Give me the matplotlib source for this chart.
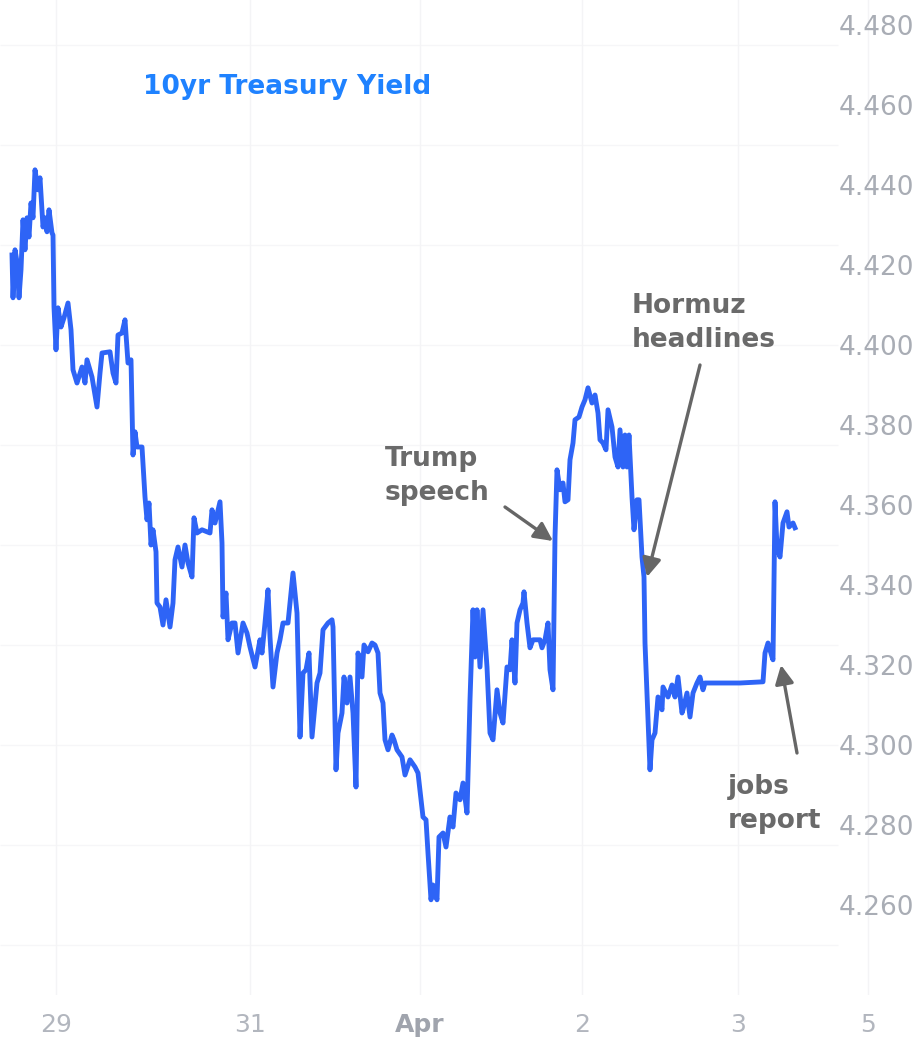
import matplotlib
matplotlib.use("Agg")
import matplotlib.pyplot as plt

# session position (compressed trading time) and 10yr yield, %
t = [1.2, 1.3, 1.5, 1.7, 1.9, 2.1, 2.3, 2.5, 2.7, 2.9, 3.1, 3.3, 3.5, 3.8, 4.0, 4.3, 4.5, 4.7, 4.9, 5.2,
     5.3, 5.4, 5.6, 5.8, 6.1, 6.4, 6.8, 7.1, 7.3, 7.7, 8.2, 8.5, 8.7, 9.2, 9.7, 10.0, 10.2, 11.0, 11.3, 11.6,
     11.8, 12.2, 12.5, 12.8, 13.1, 13.3, 13.5, 13.7, 14.2, 14.5, 14.7, 14.9, 15.1, 15.3, 15.6, 15.7, 16.0, 16.3, 16.6, 17.0,
     17.3, 17.5, 17.8, 18.2, 18.5, 18.8, 19.2, 19.4, 19.7, 20.2, 21.0, 21.2, 21.5, 22.0, 22.2, 22.3, 22.6, 22.8, 23.2, 23.5,
     23.8, 24.3, 24.7, 25.0, 25.5, 26.0, 26.2, 26.5, 26.8, 27.0, 27.3, 27.7, 28.0, 28.3, 28.8, 29.3, 29.7, 30.0, 30.3, 30.6,
     30.9, 31.2, 31.7, 32.0, 32.3, 32.8, 33.2, 33.3, 33.6, 33.8, 34.2, 34.4, 34.7, 35.0, 35.3, 35.6, 35.8, 36.2, 36.4, 36.8,
     37.2, 37.5, 37.8, 38.0, 38.3, 38.5, 38.8, 39.2, 39.4, 39.7, 40.2, 40.5, 41.0, 41.5, 41.8, 42.3, 42.6, 42.8, 43.1, 43.3,
     43.7, 43.9, 44.3, 44.6, 45.0, 45.3, 45.6, 46.0, 46.3, 46.7, 47.0, 47.3, 47.5, 47.7, 48.0, 48.3, 48.7, 49.0, 49.3, 49.7,
     50.0, 50.3, 50.7, 51.0, 51.2, 51.5, 51.7, 52.0, 52.3, 52.4, 52.7, 53.0, 53.3, 54.0, 54.2, 54.5, 54.8, 55.0, 55.3, 55.5,
     55.7, 56.0, 56.3, 56.5, 56.8, 57.0, 57.3, 57.5, 57.9, 58.2, 58.5, 58.8, 59.2, 59.5, 59.8, 60.0, 60.3, 60.6, 60.8, 61.2,
     61.5, 61.8, 62.0, 62.3, 62.5, 62.7, 62.9, 63.2, 63.4, 63.7, 63.9, 64.2, 64.4, 64.5, 64.8, 65.0, 65.2, 65.5, 65.8, 66.2,
     66.3, 66.8, 67.2, 67.5, 67.8, 68.2, 68.3, 68.7, 69.0, 69.3, 69.7, 70.0, 70.3, 70.5, 72.3, 74.0, 76.3, 76.5, 76.8, 77.2,
     77.3, 77.5, 77.7, 78.0, 78.3, 78.7, 78.9, 79.3, 79.5]
yld = [4.4225, 4.4118, 4.4238, 4.4208, 4.4118, 4.4188, 4.4313, 4.4238, 4.4318, 4.4270, 4.4355, 4.4318, 4.4438, 4.4388, 4.4418, 4.4295, 4.4318, 4.4283, 4.4338, 4.4280,
       4.4275, 4.4095, 4.3988, 4.4093, 4.4045, 4.4068, 4.4105, 4.4038, 4.3938, 4.3905, 4.3945, 4.3905, 4.3963, 4.3920, 4.3845, 4.3930, 4.3980, 4.3983, 4.3930, 4.3905,
       4.4025, 4.4030, 4.4063, 4.3955, 4.3963, 4.3725, 4.3783, 4.3745, 4.3745, 4.3620, 4.3563, 4.3605, 4.3500, 4.3538, 4.3483, 4.3355, 4.3345, 4.3300, 4.3363, 4.3295,
       4.3355, 4.3463, 4.3495, 4.3445, 4.3500, 4.3455, 4.3420, 4.3568, 4.3530, 4.3538, 4.3530, 4.3588, 4.3555, 4.3608, 4.3505, 4.3320, 4.3380, 4.3263, 4.3305, 4.3305,
       4.3230, 4.3305, 4.3280, 4.3245, 4.3195, 4.3263, 4.3230, 4.3305, 4.3388, 4.3270, 4.3145, 4.3230, 4.3263, 4.3305, 4.3305, 4.3430, 4.3330, 4.3020, 4.3180, 4.3188,
       4.3230, 4.3020, 4.3155, 4.3180, 4.3288, 4.3305, 4.3313, 4.3295, 4.2938, 4.3030, 4.3080, 4.3170, 4.3105, 4.3170, 4.3080, 4.2895, 4.3230, 4.3170, 4.3250, 4.3233,
       4.3255, 4.3250, 4.3230, 4.3130, 4.3105, 4.3013, 4.2988, 4.3025, 4.3013, 4.2988, 4.2970, 4.2925, 4.2963, 4.2945, 4.2930, 4.2820, 4.2813, 4.2730, 4.2613, 4.2650,
       4.2613, 4.2770, 4.2780, 4.2745, 4.2820, 4.2795, 4.2880, 4.2863, 4.2905, 4.2830, 4.3113, 4.3338, 4.3220, 4.3338, 4.3195, 4.3338, 4.3195, 4.3030, 4.3013, 4.3138,
       4.3080, 4.3055, 4.3195, 4.3188, 4.3263, 4.3155, 4.3305, 4.3338, 4.3355, 4.3383, 4.3305, 4.3243, 4.3263, 4.3263, 4.3243, 4.3263, 4.3305, 4.3188, 4.3138, 4.3520,
       4.3688, 4.3638, 4.3655, 4.3608, 4.3613, 4.3713, 4.3755, 4.3813, 4.3820, 4.3845, 4.3863, 4.3893, 4.3855, 4.3875, 4.3830, 4.3763, 4.3755, 4.3738, 4.3838, 4.3795,
       4.3720, 4.3695, 4.3788, 4.3695, 4.3775, 4.3695, 4.3775, 4.3620, 4.3538, 4.3613, 4.3613, 4.3470, 4.3420, 4.3255, 4.3063, 4.2938, 4.3013, 4.3030, 4.3120, 4.3088,
       4.3145, 4.3120, 4.3150, 4.3120, 4.3170, 4.3080, 4.3088, 4.3130, 4.3070, 4.3130, 4.3155, 4.3170, 4.3138, 4.3155, 4.3155, 4.3155, 4.3158, 4.3230, 4.3255, 4.3220,
       4.3213, 4.3608, 4.3495, 4.3470, 4.3555, 4.3583, 4.3545, 4.3555, 4.3543]

x_ticks = [5.6, 25.0, 42.0, 58.2, 73.8, 86.8]
x_labels = ["29", "31", "Apr", "2", "3", "5"]
y_ticks = [4.26, 4.28, 4.30, 4.32, 4.34, 4.36, 4.38, 4.40, 4.42, 4.44, 4.46, 4.48]
y_labels = [f"{v:.3f}%" for v in y_ticks]
grid_levels = [4.25, 4.275, 4.30, 4.325, 4.35, 4.375, 4.40, 4.425, 4.45, 4.475]

fig = plt.figure(figsize=(9.14, 10.42), dpi=100)
fig.patch.set_facecolor("white")
ax = fig.add_axes([0, 47 / 1042, 1, 995 / 1042])
ax.set_xlim(0, 91.4)
ax.set_ylim(4.2375, 4.48625)

# faint background grid
ax.hlines(grid_levels, 0, 83.8, color="#f6f6f8", lw=1, zorder=0)
for xv in x_ticks:
    ax.axvline(xv, color="#f4f4f6", lw=1, zorder=0)

ax.plot(t, yld, color="#2e64f6", lw=3.5, solid_joinstyle="round", zorder=3)

for s in ax.spines.values():
    s.set_visible(False)

ax.set_xticks(x_ticks)
ax.set_xticklabels(x_labels)
ax.yaxis.tick_right()
ax.set_yticks(y_ticks)
ax.set_yticklabels(y_labels)
ax.tick_params(axis="x", length=0, pad=13, labelsize=18, labelcolor="#b2b6be")
ax.tick_params(axis="y", length=0, pad=-54, labelsize=19, labelcolor="#a9adb5")
for lab in ax.get_xticklabels():
    if lab.get_text() == "Apr":
        lab.set_fontweight("bold")
        lab.set_color("#a0a4ad")

fig.text(143 / 914, 1 - 87 / 1042, "10yr Treasury Yield", color="#1f82ff",
         fontsize=19, fontweight="bold", ha="left", va="center")

note = dict(color="#6a6a6a", fontsize=19, fontweight="bold", ha="left", va="center",
            linespacing=1.4)
arrow = dict(arrowstyle="-|>", color="#666666", lw=2.4, mutation_scale=28,
             shrinkA=0, shrinkB=0)

ax.text(38.5, 4.3673, "Trump\nspeech", **note)
ax.annotate("", xy=(55.3, 4.351), xytext=(50.5, 4.3595), arrowprops=arrow)

ax.text(63.2, 4.4054, "Hormuz\nheadlines", **note)
ax.annotate("", xy=(64.7, 4.342), xytext=(70.0, 4.395), arrowprops=arrow)

ax.text(72.8, 4.2853, "jobs\nreport", **note)
ax.annotate("", xy=(78.1, 4.320), xytext=(79.7, 4.298), arrowprops=arrow)

fig.savefig("out.png", dpi=100)
